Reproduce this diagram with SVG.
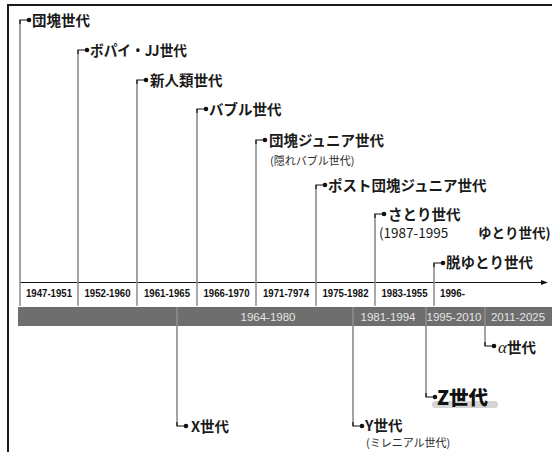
<svg xmlns="http://www.w3.org/2000/svg" width="552" height="452" viewBox="0 0 552 452">
<style>
.lbl{font-family:"Noto Sans CJK JP","Noto Sans",sans-serif;font-weight:bold;font-size:14.5px;fill:#1a1a1a}
.sub{font-family:"Noto Sans CJK JP","Noto Sans",sans-serif;font-size:11px;fill:#2a2a2a}
.yr{font-family:"Liberation Sans",Arial,sans-serif;font-weight:bold;font-size:11px;fill:#111}
.bar{font-family:"Liberation Sans",Arial,sans-serif;font-size:11.5px;fill:#e4e4e4}
.v{stroke:#8c8c8c;stroke-width:1.6;fill:none}
.d{stroke:#555;stroke-width:1;fill:none}
.c{stroke:#111;stroke-width:1.2;fill:none}
.dot{fill:#111}
</style>
<defs>
<marker id="arr" viewBox="0 0 8 8" refX="7" refY="4" markerWidth="6" markerHeight="6" orient="auto">
<path d="M0,1 L8,4 L0,7 Z" fill="#111"/>
</marker>
</defs>
<rect width="552" height="452" fill="#fff"/>
<!-- frame -->
<path d="M8,452 V5 H552" stroke="#1a1a1a" stroke-width="2" fill="none"/>

<!-- timeline row -->
<g id="timeline">
<line x1="20" y1="282.5" x2="547" y2="282.5" stroke="#111" stroke-width="1.2" marker-end="url(#arr)"/>
<g class="d">
<line x1="20" y1="283" x2="20" y2="306"/>
<line x1="78" y1="283" x2="78" y2="306"/>
<line x1="137" y1="283" x2="137" y2="306"/>
<line x1="197" y1="283" x2="197" y2="306"/>
<line x1="256" y1="283" x2="256" y2="306"/>
<line x1="316" y1="283" x2="316" y2="306"/>
<line x1="375" y1="283" x2="375" y2="306"/>
<line x1="434" y1="283" x2="434" y2="306"/>
</g>
<g class="yr" text-anchor="middle">
<text x="49" y="297" textLength="46" lengthAdjust="spacingAndGlyphs">1947-1951</text>
<text x="107.5" y="297" textLength="46" lengthAdjust="spacingAndGlyphs">1952-1960</text>
<text x="167" y="297" textLength="46" lengthAdjust="spacingAndGlyphs">1961-1965</text>
<text x="226.5" y="297" textLength="46" lengthAdjust="spacingAndGlyphs">1966-1970</text>
<text x="286" y="297" textLength="46" lengthAdjust="spacingAndGlyphs">1971-7974</text>
<text x="345.5" y="297" textLength="46" lengthAdjust="spacingAndGlyphs">1975-1982</text>
<text x="404.5" y="297" textLength="46" lengthAdjust="spacingAndGlyphs">1983-1955</text>
</g>
<text class="yr" x="440" y="297" textLength="25" lengthAdjust="spacingAndGlyphs">1996-</text>
</g>

<!-- gray bar -->
<g id="eras">
<rect x="18" y="307" width="534" height="19" fill="#6e6e6e"/>
<g class="bar" text-anchor="middle">
<text x="268" y="321">1964-1980</text>
<text x="388" y="321">1981-1994</text>
<text x="454" y="321">1995-2010</text>
<text x="518" y="321">2011-2025</text>
</g>
</g>

<!-- connectors -->
<g id="connectors">
<g class="v">
<line x1="20" y1="20" x2="20" y2="283"/>
<line x1="78" y1="50" x2="78" y2="283"/>
<line x1="137" y1="80" x2="137" y2="283"/>
<line x1="197" y1="109" x2="197" y2="283"/>
<line x1="256" y1="140" x2="256" y2="283"/>
<line x1="316" y1="185" x2="316" y2="283"/>
<line x1="375" y1="214" x2="375" y2="283"/>
<line x1="434" y1="263" x2="434" y2="283"/>
<line x1="177" y1="307" x2="177" y2="426"/>
<line x1="353" y1="307" x2="353" y2="426"/>
<line x1="426" y1="307" x2="426" y2="397"/>
<line x1="485" y1="307" x2="485" y2="346"/>
</g>
<g class="c">
<path d="M20,24 V20 H28"/>
<path d="M78,54 V50 H86"/>
<path d="M137,84 V80 H145"/>
<path d="M197,113 V109 H205"/>
<path d="M256,144 V140 H264"/>
<path d="M316,189 V185 H324"/>
<path d="M375,218 V214 H383"/>
<path d="M434,267 V263 H442"/>
<path d="M177,422 V426 H185"/>
<path d="M353,422 V426 H361"/>
<path d="M426,393 V397 H434"/>
<path d="M485,342 V346 H493"/>
</g>
<g class="dot">
<circle cx="29" cy="20" r="2.3"/>
<circle cx="87" cy="50" r="2.3"/>
<circle cx="146" cy="80" r="2.3"/>
<circle cx="206" cy="109" r="2.3"/>
<circle cx="265" cy="140" r="2.3"/>
<circle cx="325" cy="185" r="2.3"/>
<circle cx="384" cy="214" r="2.3"/>
<circle cx="443" cy="263" r="2.3"/>
<circle cx="186" cy="426" r="2.3"/>
<circle cx="362" cy="426" r="2.3"/>
<circle cx="435" cy="397" r="2.3"/>
<circle cx="494" cy="346" r="2.3"/>
</g>
</g>

<!-- nodes -->
<g id="dankai"><text class="lbl" x="32" y="26">団塊世代</text></g>
<g id="popeye"><text class="lbl" x="90" y="56" textLength="97" lengthAdjust="spacingAndGlyphs">ボパイ・JJ世代</text></g>
<g id="shinjinrui"><text class="lbl" x="150" y="86">新人類世代</text></g>
<g id="bubble"><text class="lbl" x="209" y="115">バブル世代</text></g>
<g id="dankai-junior"><text class="lbl" x="269" y="146">団塊ジュニア世代</text><text class="sub" x="270" y="165">(隠れバブル世代)</text></g>
<g id="post-dankai-junior"><text class="lbl" x="328" y="191">ポスト団塊ジュニア世代</text></g>
<g id="satori"><text class="lbl" x="388" y="220">さとり世代</text><text x="379" y="238" font-family="Noto Sans CJK JP, sans-serif" font-size="13.5" fill="#1a1a1a">(1987-1995<tspan x="478" font-weight="bold">ゆとり世代)</tspan></text></g>
<g id="datsu-yutori"><text class="lbl" x="446" y="268">脱ゆとり世代</text></g>
<g id="gen-x"><text class="lbl" x="191" y="432">X世代</text></g>
<g id="gen-y"><text class="lbl" x="365" y="431">Y世代</text><text class="sub" x="366" y="447">(ミレニアル世代)</text></g>
<g id="gen-z"><rect x="432" y="401" width="66" height="7" rx="3.5" fill="#d4d4d4"/><text x="437" y="405" font-family="Noto Sans CJK JP, sans-serif" font-weight="900" font-size="19.5" fill="#111">Z世代</text></g>
<g id="gen-alpha"><text class="lbl" x="498" y="353"><tspan font-style="italic" font-family="Liberation Serif, serif" font-weight="normal" font-size="17">α</tspan>世代</text></g>
</svg>
